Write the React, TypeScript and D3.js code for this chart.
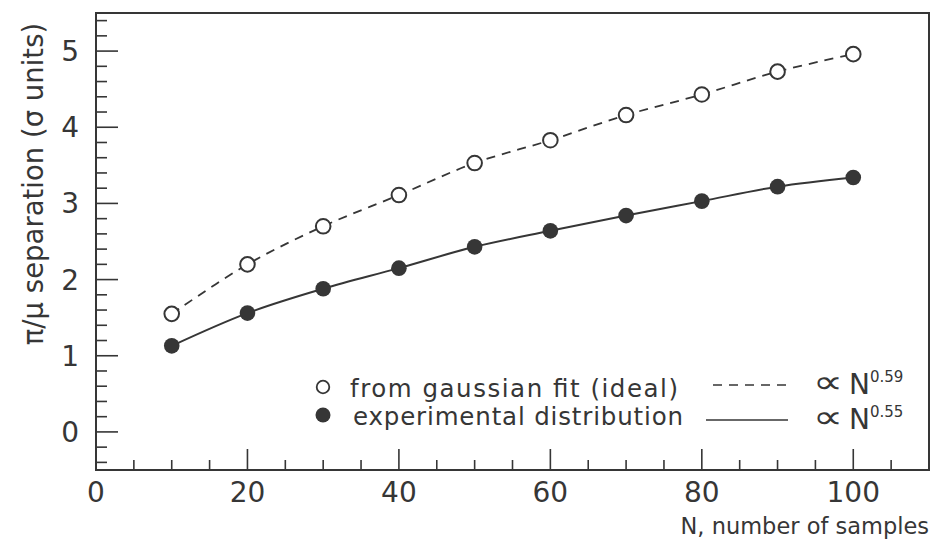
import React from "react";
import * as d3 from "d3";

const samplesN = [10, 20, 30, 40, 50, 60, 70, 80, 90, 100];
const gaussianFit = [1.55, 2.2, 2.7, 3.11, 3.53, 3.83, 4.16, 4.43, 4.73, 4.96];
const experimental = [1.13, 1.56, 1.88, 2.15, 2.43, 2.64, 2.84, 3.03, 3.22, 3.34];
const xTickLabels = [0, 20, 40, 60, 80, 100];
const yTickLabels = [0, 1, 2, 3, 4, 5];
const legendLabels = ["from gaussian fit (ideal)", "experimental distribution"];
const legendExponents = ["0.59", "0.55"];

const W = 934;
const H = 544;
const INK = "#363636";
const FONT = "'DejaVu Sans', sans-serif";

export default function App() {
  const x = d3.scaleLinear().domain([0, 110]).range([96, 929]);
  const y = d3.scaleLinear().domain([-0.5, 5.5]).range([470, 13]);

  const xMinor = d3.range(0, 111, 5);
  const yMinor = d3.range(-0.4, 5.5, 0.2).map((v) => Math.round(v * 10) / 10);

  const line = d3
    .line<[number, number]>()
    .x((d) => x(d[0]))
    .y((d) => y(d[1]))
    .curve(d3.curveCatmullRom.alpha(0.5));

  const gPts: [number, number][] = samplesN.map((n, i) => [n, gaussianFit[i]]);
  const ePts: [number, number][] = samplesN.map((n, i) => [n, experimental[i]]);

  const x0 = x(0);
  const yB = y(-0.5);

  const propSymbol = (baseY: number, exp: string) => (
    <g>
      <text
        transform={`translate(813, ${baseY - 1}) scale(1.5, 1.15)`}
        fontFamily={FONT}
        fontSize={28}
        fill={INK}
      >
        ∝
      </text>
      <text x={849} y={baseY} fontFamily={FONT} fill={INK} fontSize={28}>
        N<tspan fontSize={15} dy={-12}>{exp}</tspan>
      </text>
    </g>
  );

  return (
    <svg width={W} height={H} style={{ position: "absolute", left: 0, top: 0 }}>
      <rect x={0} y={0} width={W} height={H} fill="#fff" />
      <rect
        x={x(0)}
        y={y(5.5)}
        width={x(110) - x(0)}
        height={y(-0.5) - y(5.5)}
        fill="none"
        stroke={INK}
        strokeWidth={2}
      />
      {xMinor.map((v) => {
        const major = v % 20 === 0;
        if (v === 0 || v === 110) return null;
        return (
          <line
            key={"xt" + v}
            x1={x(v)}
            x2={x(v)}
            y1={yB}
            y2={yB - (major ? 21 : 10)}
            stroke={INK}
            strokeWidth={1.6}
          />
        );
      })}
      {yMinor.map((v) => {
        const major = Math.abs(v - Math.round(v)) < 1e-6;
        return (
          <line
            key={"yt" + v}
            x1={x0}
            x2={x0 + (major ? 22 : 11)}
            y1={y(v)}
            y2={y(v)}
            stroke={INK}
            strokeWidth={1.6}
          />
        );
      })}
      {xTickLabels.map((v) => (
        <text
          key={"xl" + v}
          x={x(v)}
          y={502}
          textAnchor="middle"
          fontFamily={FONT}
          fontSize={28}
          fill={INK}
        >
          {v}
        </text>
      ))}
      {yTickLabels.map((v) => (
        <text
          key={"yl" + v}
          x={79}
          y={y(v) + 10}
          textAnchor="end"
          fontFamily={FONT}
          fontSize={28}
          fill={INK}
        >
          {v}
        </text>
      ))}
      <text
        x={929}
        y={534}
        textAnchor="end"
        fontFamily={FONT}
        fontSize={22.5}
        fill={INK}
      >
        N, number of samples
      </text>
      <text
        transform={`translate(43, 184) rotate(-90)`}
        textAnchor="middle"
        fontFamily={FONT}
        fontSize={27.5}
        fill={INK}
      >
        π/μ separation (σ units)
      </text>
      <path d={line(gPts) || ""} fill="none" stroke={INK} strokeWidth={1.8} strokeDasharray="9,7" />
      <path d={line(ePts) || ""} fill="none" stroke={INK} strokeWidth={2} />
      {gPts.map((d, i) => (
        <circle key={"g" + i} cx={x(d[0])} cy={y(d[1])} r={7.3} fill="#fff" stroke={INK} strokeWidth={2} />
      ))}
      {ePts.map((d, i) => (
        <circle key={"e" + i} cx={x(d[0])} cy={y(d[1])} r={7.8} fill={INK} />
      ))}
      {/* legend */}
      <circle cx={323} cy={387} r={6.3} fill="#fff" stroke={INK} strokeWidth={1.8} />
      <text x={350} y={397} fontFamily={FONT} fontSize={24.5} fill={INK} textLength={328} lengthAdjust="spacing">
        {legendLabels[0]}
      </text>
      <line x1={713} x2={789} y1={385} y2={385} stroke={INK} strokeWidth={1.5} strokeDasharray="9,7" />
      {propSymbol(394, legendExponents[0])}
      <circle cx={323} cy={415} r={7.5} fill={INK} />
      <text x={353} y={425} fontFamily={FONT} fontSize={24.5} fill={INK} textLength={330} lengthAdjust="spacing">
        {legendLabels[1]}
      </text>
      <line x1={706} x2={788} y1={420} y2={420} stroke={INK} strokeWidth={1.5} />
      {propSymbol(429, legendExponents[1])}
    </svg>
  );
}
